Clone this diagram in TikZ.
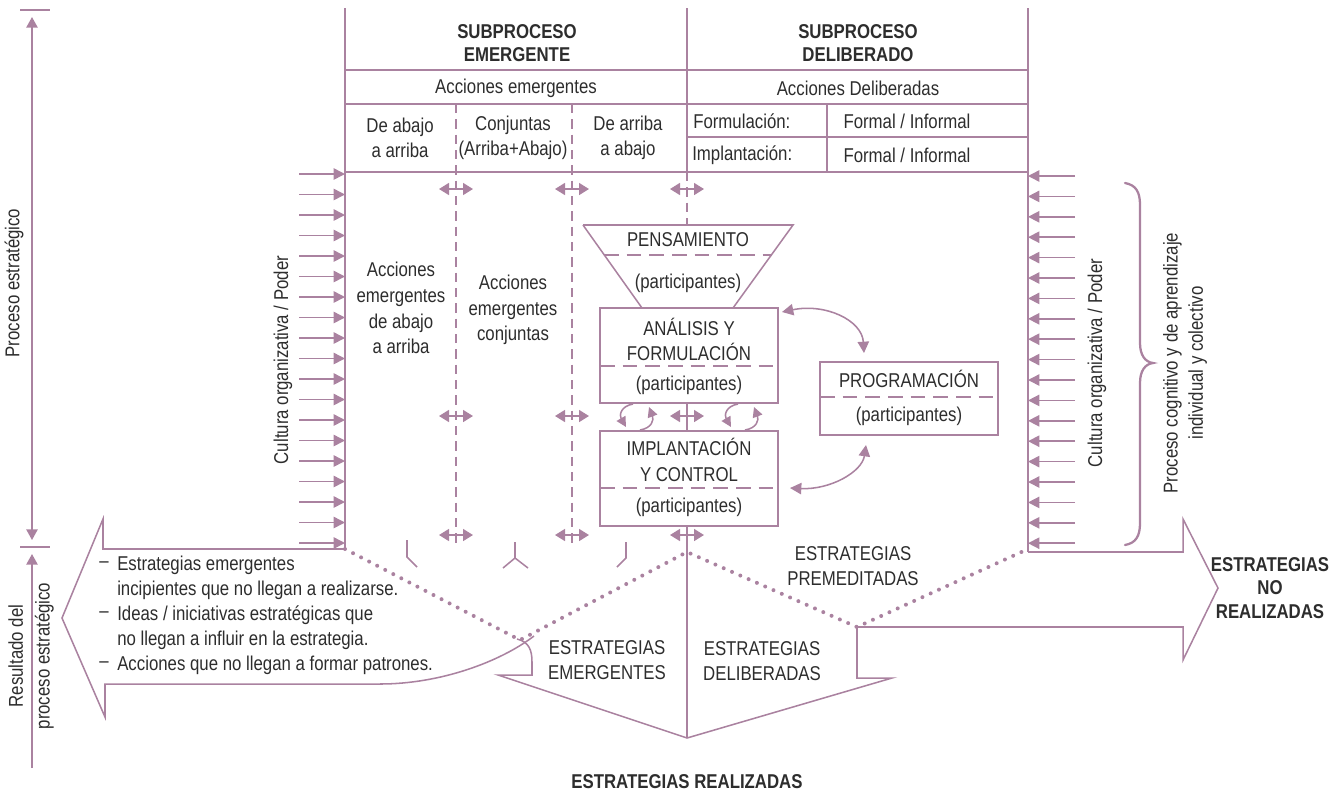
\documentclass[tikz,border=0pt]{standalone}
\usepackage{fontspec}
\setmainfont{Liberation Sans}[FakeStretch=0.84]
\usetikzlibrary{arrows.meta}
\definecolor{mauve}{RGB}{170,130,160}
\definecolor{txt}{RGB}{45,45,45}
\begin{document}
\begin{tikzpicture}[x=0.75pt,y=-0.75pt,
 ln/.style={draw=mauve,line width=1.15pt},
 dsh/.style={ln,dash pattern=on 7pt off 4.5pt},
 dshh/.style={ln,dash pattern=on 11pt off 6pt},
 dots/.style={draw=mauve,line width=3pt,line cap=round,dash pattern=on 0pt off 6.8pt},
 arr/.style={ln,-{Triangle[length=8.5pt,width=8.5pt]}},
 axarr/.style={ln,-{Triangle[length=8pt,width=8.5pt]}},
 axdbl/.style={ln,{Triangle[length=8pt,width=8.5pt]}-{Triangle[length=8pt,width=8.5pt]}},
 dblarr/.style={ln,{Triangle[length=7.5pt,width=9pt]}-{Triangle[length=7.5pt,width=9pt]}},
 carr/.style={ln,-{Triangle[length=7.5pt,width=7.5pt]}},
 cdbl/.style={ln,{Triangle[length=8.5pt,width=8.5pt]}-{Triangle[length=8.5pt,width=8.5pt]}},
 boxn/.style={draw=mauve,line width=1.15pt,inner sep=0pt,minimum width=133.5pt},
 lbl/.style={text=txt,font=\fontsize{15}{19}\selectfont,inner sep=0pt,align=center},
 bld/.style={text=txt,font=\fontsize{15}{17.5}\selectfont\bfseries,inner sep=0pt,align=center},
]
\useasboundingbox (0,0) rectangle (1341,794);

% ---------- left axis ----------
\coordinate (tk1a) at (20,10); \coordinate (tk1b) at (50,10);
\coordinate (tk2a) at (20,547); \coordinate (tk2b) at (50,547);
\draw[ln] (tk1a) -- (tk1b);
\draw[ln] (tk2a) -- (tk2b);
\coordinate (ax1a) at (32,17); \coordinate (ax1b) at (32,540);
\draw[axdbl] (ax1a) -- (ax1b);
\coordinate (ax2a) at (32,768); \coordinate (ax2b) at (32,554);
\draw[axarr] (ax2a) -- (ax2b);
\node[lbl,rotate=90] (pe) at (14,283) {Proceso estratégico};
\node[lbl,rotate=90,font=\fontsize{15}{20}\selectfont] (rp) at (31,656) {Resultado del\\proceso estratégico};

% ---------- frame ----------
\draw[ln] (345,8) -- (345,549);
\draw[ln] (1028,8) -- (1028,552);
\draw[ln] (687,8) -- (687,172);
\draw[ln] (345,70) -- (1028,70);
\draw[ln] (345,104) -- (1028,104);
\draw[ln] (345,172) -- (1028,172);
\draw[ln] (687,137) -- (1028,137);
\draw[ln] (827,104) -- (827,172);
\draw[dsh] (456,104) -- (456,548);
\draw[dsh] (572,104) -- (572,548);
\draw[dsh] (687,172) -- (687,224);

% ---------- header texts ----------
\node[bld] (se) at (517,43) {SUBPROCESO\\EMERGENTE};
\node[bld] (sd) at (858,43) {SUBPROCESO\\DELIBERADO};
\node[lbl] (ae) at (516,88) {Acciones emergentes};
\node[lbl] (ad) at (858,88) {Acciones Deliberadas};
\node[lbl] (c1) at (400,138) {De abajo\\a arriba};
\node[lbl] (c2) at (513,138) {Conjuntas\\(Arriba+Abajo)};
\node[lbl] (c3) at (628,138) {De arriba\\a abajo};
\node[lbl,anchor=west] (fo) at (693,121) {Formulación:};
\node[lbl,anchor=west] (im) at (692,155) {Implantación:};
\node[lbl] (ff) at (907,121) {Formal / Informal};
\node[lbl] (fi) at (907,155) {Formal / Informal};

% ---------- column texts ----------
\node[lbl,font=\fontsize{15}{19.3}\selectfont] (eab) at (401,308) {Acciones\\emergentes\\de abajo\\a arriba};
\node[lbl,font=\fontsize{15}{19.3}\selectfont] (ecj) at (513,310) {Acciones\\emergentes\\conjuntas};

% ---------- culture arrows ----------
\foreach \i in {0,...,18}{
  \pgfmathsetmacro\yy{174+20.5*\i}
  \coordinate (cla\i) at (299,\yy); \coordinate (clb\i) at (345,\yy);
  \draw[arr] (cla\i) -- (clb\i);
  \pgfmathsetmacro\yr{176+20.4*\i}
  \coordinate (cra\i) at (1075,\yr); \coordinate (crb\i) at (1028,\yr);
  \draw[arr] (cra\i) -- (crb\i);
}
\node[lbl,rotate=90] (cul) at (283,360) {Cultura organizativa / Poder};
\node[lbl,rotate=90] (cur) at (1097,363) {Cultura organizativa / Poder};

% brace
\draw[draw=mauve,line width=1.7pt,line cap=round] (1125,183) .. controls (1136,185) and (1140,192) .. (1140,205) -- (1140,343) .. controls (1140,355) and (1145,362) .. (1153,363) .. controls (1145,364) and (1140,371) .. (1140,383) -- (1140,523) .. controls (1140,536) and (1136,543) .. (1125,545);
\node[lbl,rotate=90,font=\fontsize{15}{19}\selectfont] (pc) at (1185,363) {Proceso cognitivo y de aprendizaje\\individual y colectivo};

% ---------- small double arrows ----------
\foreach \x in {456,572,687}{
  \foreach \y in {189,416,535}{
    \coordinate (da) at (\x-17,\y); \coordinate (db) at (\x+17,\y);
    \draw[dblarr] (da) -- (db);
  }
}

% ---------- pensamiento ----------
\draw[ln] (583,225) -- (793,225) -- (733,308);
\draw[ln] (583,225) -- (642,308);
\draw[dshh] (604,255) -- (772,255);
\node[lbl] (pen) at (688,240) {PENSAMIENTO};
\node[lbl] (penp) at (688,283) {(participantes)};

% ---------- boxes ----------
\node[boxn,minimum height=71.25pt] (af) at (689,355.5) {};
\draw[dshh] (600,366) -- (778,366);
\node[lbl] (aft) at (689,339.5) {ANÁLISIS Y\\FORMULACIÓN};
\node[lbl] (afp) at (689,385) {(participantes)};

\node[boxn,minimum height=71.25pt] (ic) at (689,478.5) {};
\draw[dshh] (600,488) -- (778,488);
\node[lbl] (ict) at (689,460) {IMPLANTACIÓN\\Y CONTROL};
\node[lbl] (icp) at (689,507) {(participantes)};

\node[boxn,minimum height=54.75pt] (pr) at (909,398.5) {};
\draw[dshh] (820,397) -- (998,397);
\node[lbl] (prt) at (909,379) {PROGRAMACIÓN};
\node[lbl] (prp) at (909,416) {(participantes)};

% connectors between boxes
\draw[ln] (af.south -| 687,0) -- (ic.north -| 687,0);
\draw[ln] (ic.south -| 687,0) -- (687,738);
\coordinate (u1) at (782,312); \coordinate (u2) at (864,353);
\draw[cdbl] (u1) .. controls (825,303) and (862,320) .. (u2);
\coordinate (w1) at (790,488); \coordinate (w2) at (866,445);
\draw[cdbl] (w1) .. controls (830,490) and (862,472) .. (w2);

% small cycle arrows
\foreach \dx in {0,105}{
  \coordinate (sa) at (633+\dx,404); \coordinate (sb) at (626+\dx,427);
  \draw[carr] (sa) .. controls (621+\dx,406) and (619+\dx,415) .. (sb);
  \coordinate (sc) at (640+\dx,430); \coordinate (sd) at (649+\dx,407);
  \draw[carr] (sc) .. controls (652+\dx,428) and (654+\dx,420) .. (sd);
}

% bottom marks
\draw[ln] (407,540) -- (407,557) -- (417,567);
\draw[ln] (515,542) -- (515,558) -- (503,568);
\draw[ln] (515,558) -- (528,568);
\draw[ln] (626,542) -- (626,558) -- (617,567);

% ---------- bottom arrows ----------
\draw[ln] (345,549) -- (103,549) -- (103,519) -- (62,618) -- (105,717) -- (105,684) -- (380,684) .. controls (440,684) and (500,662) .. (534,636);
\draw[ln] (517,639) .. controls (529,642) and (532,650) .. (532,662) -- (532,675) -- (498,675) -- (687,738) -- (892,678) -- (857,678) -- (857,627);
\draw[ln] (1028,552) -- (1183,552) -- (1183,519) -- (1218,588) -- (1183,660) -- (1183,627) -- (857,627);
\draw[dots] (345,549) -- (520,640) -- (687,552) -- (857,627) -- (1028,549);

% ---------- bottom texts ----------
\node[lbl] (epm) at (853,566) {ESTRATEGIAS\\PREMEDITADAS};
\node[lbl] (eem) at (607,660) {ESTRATEGIAS\\EMERGENTES};
\node[lbl] (edl) at (762,661) {ESTRATEGIAS\\DELIBERADAS};
\node[bld] (ere) at (687,782) {ESTRATEGIAS REALIZADAS};
\node[bld,font=\fontsize{15}{17.8}\selectfont\bfseries] (enr) at (1270,588) {ESTRATEGIAS\\NO\\REALIZADAS};

% list
\node[lbl] (d1) at (104,565) {–};
\node[lbl] (d2) at (104,615) {–};
\node[lbl] (d3) at (104,665) {–};
\node[lbl,anchor=west] (l1a) at (117,565) {Estrategias emergentes};
\node[lbl,anchor=west] (l1b) at (117,590) {incipientes que no llegan a realizarse.};
\node[lbl,anchor=west] (l2a) at (117,615) {Ideas / iniciativas estratégicas que};
\node[lbl,anchor=west] (l2b) at (117,640) {no llegan a influir en la estrategia.};
\node[lbl,anchor=west] (l3a) at (117,665) {Acciones que no llegan a formar patrones.};
\end{tikzpicture}
\end{document}
